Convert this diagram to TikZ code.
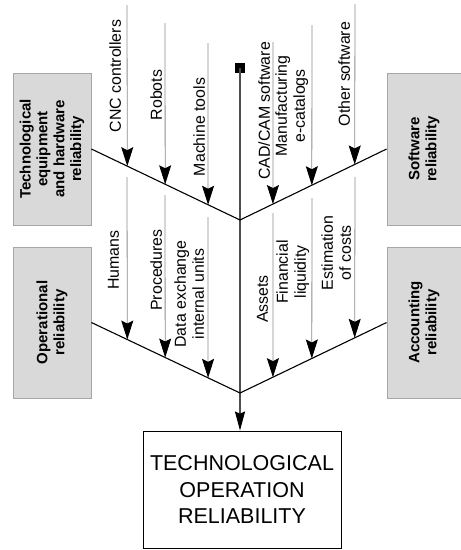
\documentclass[tikz,border=0pt]{standalone}
\usepackage{fontspec}
\setmainfont{Liberation Sans}
\usetikzlibrary{arrows.meta,calc}
\definecolor{thinc}{HTML}{8C8C8C}
\definecolor{boxfill}{HTML}{D9D9D9}
\definecolor{boxline}{HTML}{A6A6A6}
\definecolor{spinec}{HTML}{4D4D4D}
\begin{document}
\begin{tikzpicture}[x=1pt,y=-1pt,
  gbox/.style={draw=boxline, fill=boxfill, line width=0.8pt, inner sep=0pt, minimum width=#1, minimum height=152pt},
  gbox/.default=78pt,
  gtext/.style={rotate=90, font=\fontsize{15}{16.8}\selectfont\bfseries, align=center, inner sep=0pt},
  lbl/.style={rotate=90, anchor=south, inner sep=0pt, text depth=0pt, align=center, font=\fontsize{15.9}{18}\selectfont},
  feed/.style={draw=thinc, line width=0.8pt, -{Stealth[length=19pt, width=12pt, inset=3pt, color=black]}},
  branch/.style={draw=black, line width=1.1pt},
  spine/.style={draw=spinec, line width=1.6pt, -{Stealth[length=19pt, width=10pt, inset=2pt, color=black]}},
  mainbox/.style={draw=black, line width=0.8pt, minimum width=198pt, minimum height=117pt, inner sep=0pt, align=center, font=\fontsize{21.5}{26.5}\selectfont}
]
\useasboundingbox (0,0) rectangle (461,550);

% category boxes
\node[gbox] (tl) at (52,149) {};
\node[gtext] at (tl.center) {Technological\\equipment\\and hardware\\reliability};
\node[gbox=74pt] (tr) at (424,149) {};
\node[gtext] at (tr.center) {Software\\reliability};
\node[gbox, minimum height=151pt] (bl) at (52,322.5) {};
\node[gtext] at (bl.center) {Operational\\reliability};
\node[gbox=74pt, minimum height=151pt] (br) at (424,322.5) {};
\node[gtext] at (br.center) {Accounting\\reliability};

% result box
\node[mainbox] (main) at (242,489.5) {TECHNOLOGICAL\\OPERATION\\RELIABILITY};

% spine
\node[fill=black, minimum size=10pt, inner sep=0pt] (sq) at (240,68) {};
\coordinate (v1) at (240,220);
\coordinate (v2) at (240,393);
\draw[spine] (sq.center) -- (sq.center |- main.north);

% branches
\draw[branch] (tl.east) -- (v1) -- (tr.west);
\draw[branch] (bl.east) -- (v2) -- (br.west);

% upper left feeders
\coordinate (s1) at (127,5);   \coordinate (t1) at ($(tl.east)!0.2416!(v1)$);
\coordinate (s2) at (165,23);  \coordinate (t2) at ($(tl.east)!0.4966!(v1)$);
\coordinate (s3) at (208,43);  \coordinate (t3) at ($(tl.east)!0.7852!(v1)$);
% upper right feeders
\coordinate (s4) at (273,42);  \coordinate (t4) at ($(v1)!0.2245!(tr.west)$);
\coordinate (s5) at (312,25);  \coordinate (t5) at ($(v1)!0.4898!(tr.west)$);
\coordinate (s6) at (355,4);   \coordinate (t6) at ($(v1)!0.7823!(tr.west)$);
% lower left feeders
\coordinate (s7) at (127,177); \coordinate (t7) at ($(bl.east)!0.2416!(v2)$);
\coordinate (s8) at (165,195); \coordinate (t8) at ($(bl.east)!0.4966!(v2)$);
\coordinate (s9) at (208,217); \coordinate (t9) at ($(bl.east)!0.7852!(v2)$);
% lower right feeders
\coordinate (s10) at (273,213); \coordinate (t10) at ($(v2)!0.2245!(br.west)$);
\coordinate (s11) at (312,198); \coordinate (t11) at ($(v2)!0.4898!(br.west)$);
\coordinate (s12) at (355,177); \coordinate (t12) at ($(v2)!0.7823!(br.west)$);

\foreach \i in {1,...,12} {\draw[feed] (s\i) -- (t\i);}

% labels
\node[lbl] (l1) at (121,76) {CNC controllers};
\node[lbl] (l2) at (162,95) {Robots};
\node[lbl] (l3) at (205,127) {Machine tools};
\node[lbl] (l4) at (270,111) {CAD/CAM software};
\node[lbl] (l5) at (305,106) {Manufacturing\\e-catalogs};
\node[lbl] (l6) at (350,74) {Other software};
\node[lbl] (l7) at (119,260) {Humans};
\node[lbl] (l8) at (162,270) {Procedures};
\node[lbl] (l9) at (204,294) {Data exchange\\internal units};
\node[lbl] (l10) at (268,299) {Assets};
\node[lbl] (l11) at (306,272) {Financial\\liquidity};
\node[lbl] (l12) at (351,253) {Estimation\\of costs};
\end{tikzpicture}
\end{document}
